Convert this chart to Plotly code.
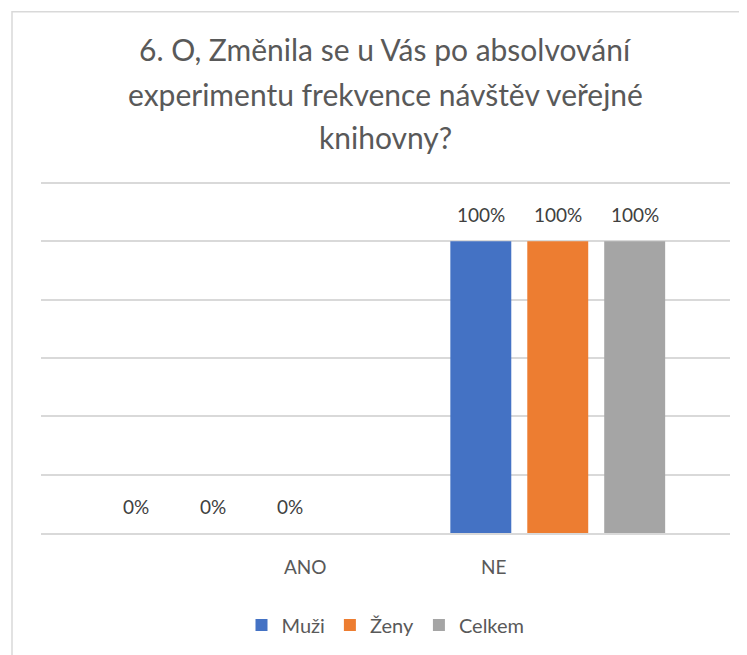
import plotly.graph_objects as go

categories = ["ANO", "NE"]
series_names = ["Muži", "Ženy", "Celkem"]
muzi = [0.0, 1.0]
zeny = [0.0, 1.0]
celkem = [0.0, 1.0]

title_lines = [
    "6. O, Změnila se u Vás po absolvování",
    "experimentu frekvence návštěv veřejné",
    "knihovny?",
]

colors = ["#4472C4", "#ED7D31", "#A5A5A5"]
font_family = "Lato, Open Sans, sans-serif"

fig = go.Figure()

values = [muzi, zeny, celkem]
for name, vals, color in zip(series_names, values, colors):
    fig.add_trace(go.Bar(
        x=categories,
        y=vals,
        name=name,
        marker=dict(color=color, line=dict(width=0)),
        hoverinfo="skip"
    ))

annotations = []

# data labels, shifted to each bar of the cluster
slot = 76.9
for i, vals in enumerate(values):
    for cat, v in zip(categories, vals):
        annotations.append(dict(
            x=cat, y=v, xref="x", yref="y",
            text=f"{v:.0%}",
            showarrow=False,
            xshift=(i - 1) * slot,
            yanchor="bottom",
            yshift=13,
            font=dict(family=font_family, size=19, color="#404040")
        ))

# category labels (offset as in the source chart)
cat_shift = {"ANO": 92, "NE": -64}
for cat in categories:
    annotations.append(dict(
        x=cat, y=0, xref="x", yref="y",
        text=cat,
        showarrow=False,
        xshift=cat_shift[cat],
        yanchor="middle",
        yshift=-33,
        font=dict(family=font_family, size=19, color="#595959")
    ))

# title lines
title_y = [1.359, 1.232, 1.112]
for line, ty in zip(title_lines, title_y):
    annotations.append(dict(
        x=0.5, y=ty, xref="paper", yref="paper",
        text=line,
        showarrow=False,
        yanchor="middle",
        font=dict(family=font_family, size=30, color="#595959")
    ))

fig.update_layout(
    width=747,
    height=655,
    paper_bgcolor="white",
    plot_bgcolor="white",
    barmode="group",
    bargap=0.33,
    bargroupgap=0.208,
    margin=dict(l=33, r=25, t=169.2, b=130),
    showlegend=True,
    legend=dict(
        orientation="h",
        x=0.5,
        xanchor="center",
        y=-0.2586,
        yanchor="middle",
        itemwidth=30,
        traceorder="normal",
        font=dict(family=font_family, size=20, color="#595959")
    ),
    xaxis=dict(
        showticklabels=False,
        showline=True,
        linecolor="#D9D9D9",
        linewidth=2,
        ticks="",
        showgrid=False
    ),
    yaxis=dict(
        range=[0, 1.22],
        tickvals=[0.2, 0.4, 0.6, 0.8, 1.0, 1.2],
        showticklabels=False,
        gridcolor="#D9D9D9",
        gridwidth=2,
        zeroline=False,
        ticks=""
    ),
    annotations=annotations,
    shapes=[dict(
        type="rect",
        xref="paper", yref="paper",
        x0=-0.0421, x1=1.5, y0=-1.0, y1=1.4643,
        line=dict(color="#D9D9D9", width=1.5),
        fillcolor="rgba(0,0,0,0)",
        layer="below"
    )]
)

fig.write_html("out.html")
